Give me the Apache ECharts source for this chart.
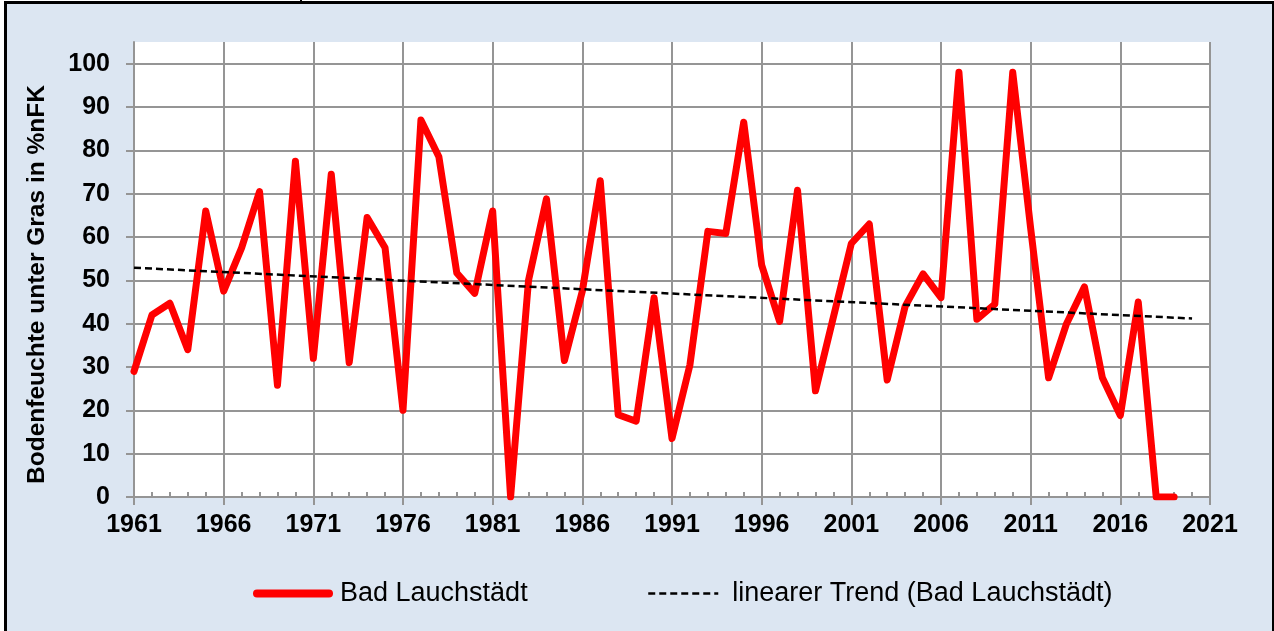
<!DOCTYPE html>
<html>
<head>
<meta charset="utf-8">
<script src="https://cdn.jsdelivr.net/npm/echarts@6/dist/echarts.min.js"></script>
<style>
  html, body { margin: 0; padding: 0; background: #ffffff; }
  #frame {
    position: absolute; left: 4px; top: 1px; width: 1265px; height: 630px;
    border-left: 3px solid #000; border-top: 3px solid #000; border-right: 2px solid #000;
    background: #dce6f2;
  }
  #mark { position: absolute; left: 300px; top: 0; width: 2px; height: 2px; background: #000; }
  #chart { position: absolute; left: 0; top: 0; width: 1274px; height: 631px; }
</style>
</head>
<body>
<div id="frame"></div>
<div id="mark"></div>
<div id="chart"></div>
<script>
// Jahre und Bodenfeuchte (%nFK) in Bad Lauchstädt
const years = [
  1961, 1962, 1963, 1964, 1965, 1966, 1967, 1968, 1969, 1970,
  1971, 1972, 1973, 1974, 1975, 1976, 1977, 1978, 1979, 1980,
  1981, 1982, 1983, 1984, 1985, 1986, 1987, 1988, 1989, 1990,
  1991, 1992, 1993, 1994, 1995, 1996, 1997, 1998, 1999, 2000,
  2001, 2002, 2003, 2004, 2005, 2006, 2007, 2008, 2009, 2010,
  2011, 2012, 2013, 2014, 2015, 2016, 2017, 2018, 2019
];
const moisture = [
  29, 42, 44.7, 34, 66, 47.5, 57.5, 70.5, 25.8, 77.5,
  32, 74.5, 31, 64.5, 57.5, 20, 87, 78.5, 51.7, 47,
  66, 0, 50, 68.8, 31.5, 47.5, 73, 19, 17.5, 46,
  13.5, 30.5, 61.3, 60.8, 86.5, 53.5, 40.5, 70.8, 24.5, 41.5,
  58.5, 63, 27, 44, 51.5, 46, 98, 41, 44.5, 98,
  62, 27.5, 40, 48.5, 27.5, 18.8, 45, 0, 0
];
const trendYears = [1961, 2020];
const yTicks = [0, 10, 20, 30, 40, 50, 60, 70, 80, 90, 100];

const baseYear = 1961;
const font = "'Liberation Sans', Arial, sans-serif";
const gridGray = "#959595";

// lineare Regression wie in Excel
function linearTrend(xs, ys) {
  const n = xs.length;
  let sx = 0, sy = 0, sxx = 0, sxy = 0;
  for (let i = 0; i < n; i++) {
    sx += xs[i]; sy += ys[i]; sxx += xs[i] * xs[i]; sxy += xs[i] * ys[i];
  }
  const b = (n * sxy - sx * sy) / (n * sxx - sx * sx);
  const a = (sy - b * sx) / n;
  return x => a + b * x;
}
const trend = linearTrend(years, moisture);

const chart = echarts.init(document.getElementById("chart"));
chart.setOption({
  animation: false,
  textStyle: { fontFamily: font },
  grid: {
    left: 134, right: 64, top: 42, bottom: 134,
    show: true, backgroundColor: "#ffffff", borderWidth: 0
  },
  legend: [
    {
      data: ["Bad Lauchstädt"],
      left: 248, top: 575,
      itemWidth: 72, itemHeight: 14,
      itemStyle: { opacity: 0 },
      lineStyle: { width: 8, cap: "round" },
      textStyle: { fontSize: 27, color: "#000", fontFamily: font, padding: [0, 0, 0, 6] }
    },
    {
      data: ["linearer Trend (Bad Lauchstädt)"],
      left: 642, top: 575,
      itemWidth: 70, itemHeight: 14,
      itemStyle: { opacity: 0 },
      lineStyle: { width: 2.5 },
      textStyle: { fontSize: 27, color: "#000", fontFamily: font, padding: [0, 0, 0, 9] }
    }
  ],
  xAxis: [
    {
      type: "value", position: "bottom",
      min: 0, max: 60, interval: 5,
      axisLine: { show: true, lineStyle: { color: gridGray, width: 2 } },
      axisTick: { show: true, length: 8, lineStyle: { color: gridGray, width: 2 } },
      splitLine: { show: true, lineStyle: { color: gridGray, width: 2 } },
      axisLabel: {
        margin: 16, fontSize: 25, fontWeight: "bold", color: "#000", fontFamily: font,
        formatter: v => String(v + baseYear)
      }
    },
    {
      // nur die kleinen Jahresstriche nach innen
      type: "value", position: "bottom",
      min: 0, max: 60, interval: 5,
      axisLine: { show: false },
      axisTick: { show: false, inside: true },
      minorTick: { show: true, splitNumber: 5, length: 5, lineStyle: { color: gridGray, width: 2 } },
      splitLine: { show: false },
      axisLabel: { show: false }
    }
  ],
  yAxis: {
    type: "value",
    min: 0, max: 105, interval: 10,
    name: "Bodenfeuchte unter Gras in %nFK",
    nameLocation: "middle", nameGap: 84,
    nameTextStyle: { fontSize: 24.5, fontWeight: "bold", color: "#000", fontFamily: font, padding: [0, 30, 0, 0] },
    axisLine: { show: true, lineStyle: { color: gridGray, width: 2 } },
    axisTick: { show: true, length: 8, customValues: yTicks, lineStyle: { color: gridGray, width: 2 } },
    splitLine: { show: true, lineStyle: { color: gridGray, width: 2 } },
    axisLabel: {
      margin: 24, fontSize: 25, fontWeight: "bold", color: "#000", fontFamily: font,
      customValues: yTicks
    }
  },
  series: [
    {
      name: "Bad Lauchstädt",
      type: "line",
      symbol: "none",
      z: 3,
      data: years.map((y, i) => [y - baseYear, moisture[i]]),
      lineStyle: { color: "#ff0000", width: 7, join: "round", cap: "round" },
      itemStyle: { color: "#ff0000" }
    },
    {
      name: "linearer Trend (Bad Lauchstädt)",
      type: "line",
      symbol: "none",
      z: 4,
      data: trendYears.map(y => [y - baseYear, trend(y)]),
      lineStyle: { color: "#000000", width: 2.5, type: [7, 4] },
      itemStyle: { color: "#000000" }
    }
  ]
});
</script>
</body>
</html>
